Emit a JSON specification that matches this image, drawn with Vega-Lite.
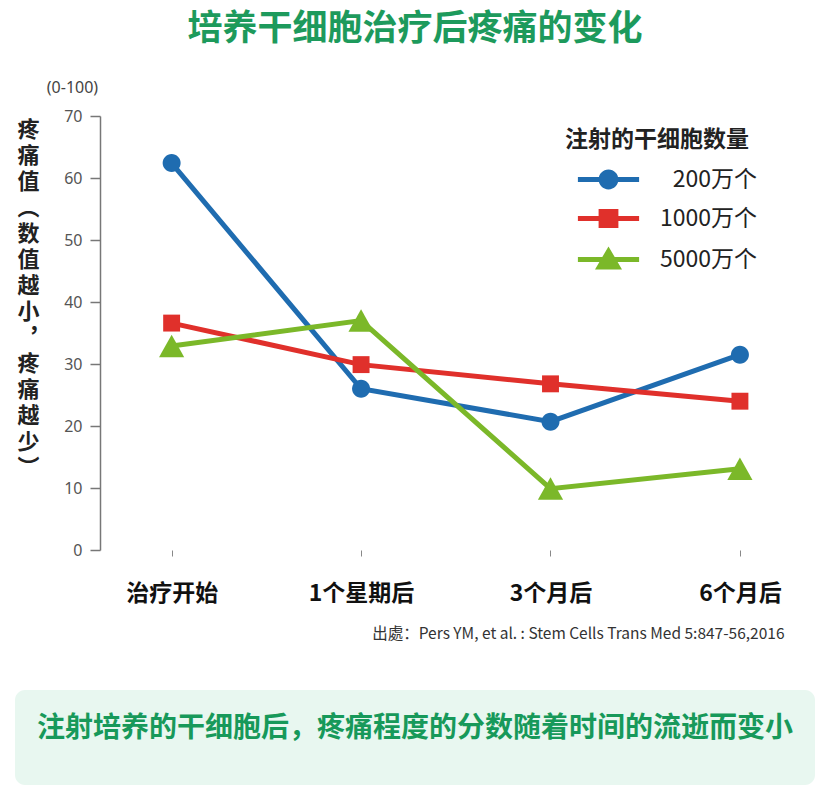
{
  "$schema": "https://vega.github.io/schema/vega-lite/v6.json",
  "padding": {"left": 15, "top": 12, "right": 5, "bottom": 14},
  "background": "white",
  "title": {"text": "培养干细胞治疗后疼痛的变化", "font": "Noto Sans CJK SC", "fontSize": 35, "fontWeight": "bold", "color": "#1d9a5c", "anchor": "middle", "offset": 32},
  "config": {"view": {"stroke": null}, "font": "Noto Sans CJK SC"},
  "datasets": {
    "pain": [
      {"time": "治疗开始", "group": "200万个", "value": 62.4},
      {"time": "1个星期后", "group": "200万个", "value": 26.0},
      {"time": "3个月后", "group": "200万个", "value": 20.7},
      {"time": "6个月后", "group": "200万个", "value": 31.5},
      {"time": "治疗开始", "group": "1000万个", "value": 36.6},
      {"time": "1个星期后", "group": "1000万个", "value": 29.9},
      {"time": "3个月后", "group": "1000万个", "value": 26.8},
      {"time": "6个月后", "group": "1000万个", "value": 24.0},
      {"time": "治疗开始", "group": "5000万个", "value": 32.9},
      {"time": "1个星期后", "group": "5000万个", "value": 37.0},
      {"time": "3个月后", "group": "5000万个", "value": 9.9},
      {"time": "6个月后", "group": "5000万个", "value": 13.1}
    ],
    "note": [
      {"text": "注射培养的干细胞后，疼痛程度的分数随着时间的流逝而变小"}
    ]
  },
  "concat": [
    {
      "width": 800,
      "height": 434,
      "data": {"name": "pain"},
      "layer": [
        {
          "mark": {"type": "line", "strokeWidth": 5},
          "encoding": {
            "x": {
              "field": "time", "type": "ordinal",
              "sort": ["治疗开始", "1个星期后", "3个月后", "6个月后"],
              "scale": {"type": "point", "padding": 0.6116, "align": 0.676},
              "axis": {
                "title": "出處：Pers YM, et al. : Stem Cells Trans Med 5:847-56,2016",
                "titleX": 769, "titleY": 83, "titleAlign": "right", "titleBaseline": "middle",
                "titleFontSize": 15.5, "titleFontWeight": "normal", "titleColor": "#333", "titleFont": "Noto Sans CJK SC",
                "domain": false, "ticks": true, "tickSize": 6, "tickColor": "#888", "tickWidth": 1,
                "labelFontSize": 23, "labelFontWeight": "bold", "labelColor": "#111", "labelFont": "Noto Sans CJK SC",
                "labelPadding": 26, "labelAngle": 0, "grid": false
              }
            },
            "y": {
              "field": "value", "type": "quantitative",
              "scale": {"domain": [0, 70], "nice": false},
              "axis": {
                "offset": -85,
                "values": [0, 10, 20, 30, 40, 50, 60, 70],
                "labelFontSize": 16, "labelColor": "#555", "labelFont": "Noto Sans", "labelPadding": 8,
                "tickSize": 10, "tickColor": "#777", "tickWidth": 1.5,
                "domainColor": "#777", "domainWidth": 1.5, "grid": false,
                "title": ["疼", "痛", "值", "︵", "数", "值", "越", "小", "︐", "疼", "痛", "越", "少", "︶"],
                "titleAngle": 0, "titleX": -72, "titleY": 3, "titleAlign": "center", "titleBaseline": "top",
                "titleFontSize": 22, "titleFontWeight": "bold", "titleColor": "#222", "titleLineHeight": 26,
                "titleFont": "Noto Sans CJK SC"
              }
            },
            "color": {
              "field": "group", "type": "nominal",
              "scale": {"domain": ["200万个", "1000万个", "5000万个"], "range": ["#1f6cb0", "#e0302b", "#7bb829"]},
              "legend": null
            }
          }
        },
        {
          "mark": {"type": "point", "filled": true, "size": 324, "opacity": 1, "strokeWidth": 0},
          "encoding": {
            "x": {"field": "time", "type": "ordinal", "sort": ["治疗开始", "1个星期后", "3个月后", "6个月后"]},
            "y": {
              "field": "value", "type": "quantitative",
              "axis": {
                "orient": "left", "offset": -85, "labels": false, "ticks": false, "domain": false, "grid": false,
                "title": "(0-100)", "titleAngle": 0, "titleX": -28, "titleY": -29,
                "titleAlign": "center", "titleBaseline": "middle",
                "titleFontSize": 16, "titleFontWeight": "normal", "titleColor": "#444", "titleFont": "Noto Sans"
              }
            },
            "color": {
              "field": "group", "type": "nominal",
              "scale": {"domain": ["200万个", "1000万个", "5000万个"], "range": ["#1f6cb0", "#e0302b", "#7bb829"]},
              "legend": null
            },
            "shape": {
              "field": "group", "type": "nominal",
              "scale": {
                "domain": ["200万个", "1000万个", "5000万个"],
                "range": ["M-1,0A1,1 0 1,1 1,0A1,1 0 1,1 -1,0Z", "M-0.94,-0.94H0.94V0.94H-0.94Z", "M0,-1.25L1.4,1.25L-1.4,1.25Z"]
              },
              "legend": null
            }
          }
        },
        {
          "mark": {"type": "point", "filled": true, "size": 0, "opacity": 1, "strokeWidth": 0},
          "encoding": {
            "x": {"field": "time", "type": "ordinal", "sort": ["治疗开始", "1个星期后", "3个月后", "6个月后"]},
            "y": {"field": "value", "type": "quantitative", "axis": null},
            "color": {
              "field": "group", "type": "nominal",
              "scale": {"domain": ["200万个", "1000万个", "5000万个"], "range": ["#1f6cb0", "#e0302b", "#7bb829"]},
              "legend": {
                "orient": "none", "legendX": 550, "legendY": 13,
                "title": "注射的干细胞数量", "titleFontSize": 23, "titleFontWeight": "bold", "titleColor": "#222",
                "titleFont": "Noto Sans CJK SC", "titlePadding": 16, "titleLimit": 400,
                "labelFontSize": 23, "labelColor": "#222", "labelFont": "Noto Sans CJK SC", "labelLimit": 300,
                "labelAlign": "right",
                "symbolSize": 324, "symbolOffset": 32, "labelOffset": 137, "rowPadding": 15, "symbolStrokeWidth": 0
              }
            },
            "shape": {
              "field": "group", "type": "nominal",
              "scale": {
                "domain": ["200万个", "1000万个", "5000万个"],
                "range": [
                  "M-3.4,-0.28H3.4V0.28H-3.4Z M-1.1,0A1.1,1.1 0 1,1 1.1,0A1.1,1.1 0 1,1 -1.1,0Z",
                  "M-3.4,-0.28H3.4V0.28H-3.4Z M-1.1,-1.05H1.1V1.05H-1.1Z",
                  "M-3.4,-0.28H3.4V0.28H-3.4Z M0,-1.45L1.5,1.1L-1.5,1.1Z"
                ]
              },
              "legend": {
                "orient": "none", "legendX": 550, "legendY": 13,
                "title": "注射的干细胞数量", "titleFontSize": 23, "titleFontWeight": "bold", "titleColor": "#222",
                "titleFont": "Noto Sans CJK SC", "titlePadding": 16, "titleLimit": 400,
                "labelFontSize": 23, "labelColor": "#222", "labelFont": "Noto Sans CJK SC", "labelLimit": 300,
                "labelAlign": "right",
                "symbolSize": 324, "symbolOffset": 32, "labelOffset": 137, "rowPadding": 15, "symbolStrokeWidth": 0
              }
            }
          }
        }
      ],
      "resolve": {"scale": {"color": "independent", "shape": "independent"}, "axis": {"y": "independent"}}
    },
    {
      "width": 800,
      "height": 95,
      "view": {"fill": "#e8f7f0", "cornerRadius": 10, "stroke": null},
      "data": {"name": "note"},
      "mark": {"type": "text", "fontSize": 28, "fontWeight": "bold", "color": "#17995a", "dy": -9, "font": "Noto Sans CJK SC"},
      "encoding": {"text": {"field": "text", "type": "nominal"}}
    }
  ],
  "columns": 1,
  "spacing": 48
}
